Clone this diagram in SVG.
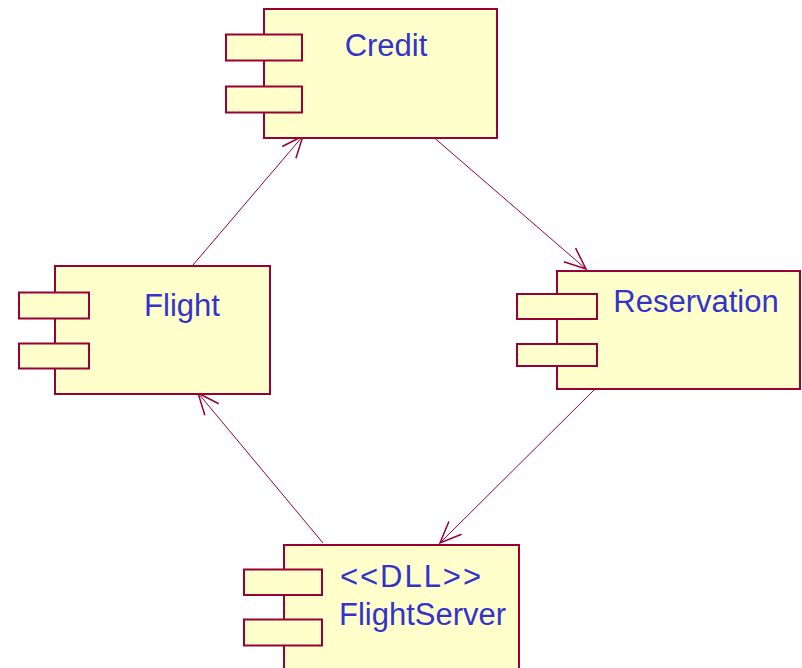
<svg xmlns="http://www.w3.org/2000/svg" width="802" height="668" viewBox="0 0 802 668">
<style>
.box{fill:#ffffcc;stroke:#990033;stroke-width:2}
.lbl{font-family:"Liberation Sans",Arial,sans-serif;font-size:31px;fill:#3333cc}
.conn{stroke:#990033;stroke-width:1;fill:none;marker-end:url(#arr)}
</style>
<defs>
<marker id="arr" markerUnits="userSpaceOnUse" orient="auto" markerWidth="30" markerHeight="30" refX="0" refY="0" viewBox="-25 -15 30 30" overflow="visible">
<path d="M-21.5,-9 L0,0 L-21.5,9" fill="none" stroke="#990033" stroke-width="1.5"/>
</marker>
</defs>
<rect width="802" height="668" fill="#ffffff"/>
<g id="connectors">
<line class="conn" x1="193" y1="265" x2="303" y2="136"/>
<line class="conn" x1="431" y1="135" x2="586" y2="269"/>
<line class="conn" x1="595" y1="389" x2="440" y2="543"/>
<line class="conn" x1="323" y1="543" x2="198" y2="393"/>
</g>
<g id="credit">
<rect class="box" x="264" y="9" width="233" height="129"/>
<rect class="box" x="226" y="34.5" width="76" height="26"/>
<rect class="box" x="226" y="86.5" width="76" height="26"/>
<text class="lbl" x="386" y="56" text-anchor="middle">Credit</text>
</g>
<g id="flight">
<rect class="box" x="55" y="266" width="215" height="128"/>
<rect class="box" x="19" y="292.5" width="70" height="26"/>
<rect class="box" x="19" y="343.5" width="70" height="25"/>
<text class="lbl" x="182" y="316" text-anchor="middle">Flight</text>
</g>
<g id="reservation">
<rect class="box" x="557" y="271" width="243" height="118"/>
<rect class="box" x="517" y="294" width="80" height="25"/>
<rect class="box" x="517" y="344" width="80" height="22"/>
<text class="lbl" x="696" y="312" text-anchor="middle">Reservation</text>
</g>
<g id="flightserver">
<rect class="box" x="284" y="545" width="235" height="140"/>
<rect class="box" x="244" y="569.5" width="78" height="25.5"/>
<rect class="box" x="244" y="619.5" width="78" height="26"/>
<text class="lbl" x="340" y="587" textLength="141" lengthAdjust="spacing">&lt;&lt;DLL&gt;&gt;</text>
<text class="lbl" x="339" y="625">FlightServer</text>
</g>
</svg>
